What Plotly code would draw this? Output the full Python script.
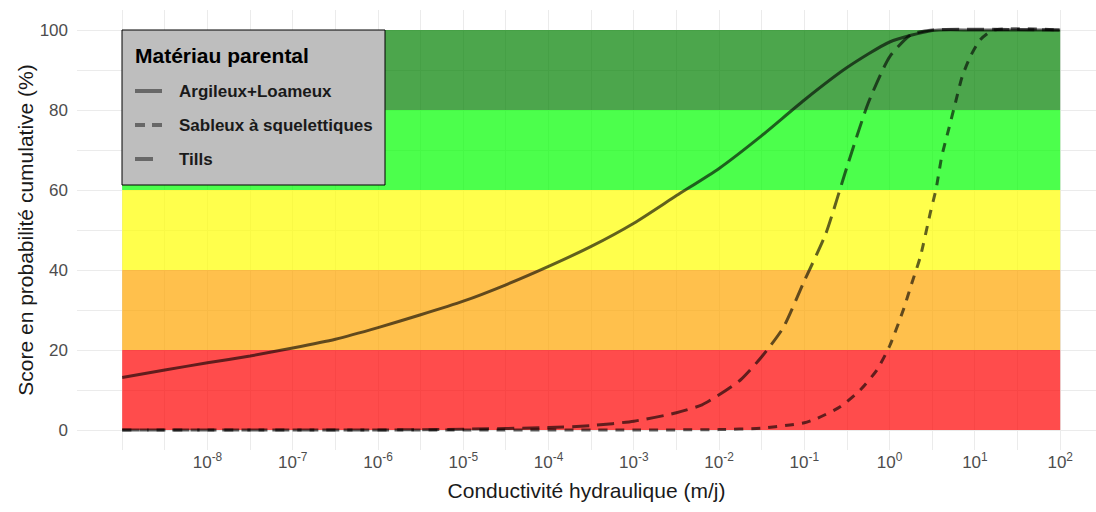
import numpy as np
import plotly.graph_objects as go

# log10 of hydraulic conductivity (m/j) and cumulative probability score (%)
log_k_argileux = [-9, -8.5, -8, -7.5, -7, -6.5, -6, -5.5, -5, -4.5, -4, -3.5,
                  -3, -2.5, -2, -1.5, -1, -0.5, 0, 0.5, 1, 2]
score_argileux = [13.1, 15.0, 16.8, 18.5, 20.5, 22.7, 25.6, 28.8, 32.2, 36.3,
                  40.9, 45.9, 51.7, 58.6, 65.4, 73.6, 82.5, 90.6, 97.0, 99.9,
                  100, 100]

log_k_sableux = [-9, -3, -2, -1.5, -1.17, -1, -0.85, -0.58, -0.345, -0.15, 0,
                 0.16, 0.26, 0.36, 0.476, 0.546, 0.61, 0.69, 0.77, 0.85, 0.945,
                 1.06, 1.22, 2]
score_sableux = [0, 0, 0.1, 0.45, 1.25, 1.8, 2.9, 5.8, 10.0, 15.0, 21.0, 30.0,
                 36.7, 43.3, 54.2, 60.4, 68.3, 75.0, 81.7, 88.3, 93.3, 97.5,
                 100, 100]

log_k_tills = [-9, -6, -5, -4, -3.5, -3, -2.5, -2.2, -2, -1.75, -1.5, -1.25,
               -1, -0.75, -0.5, -0.25, 0, 0.25, 0.5, 2]
score_tills = [0, 0, 0.2, 0.6, 1.1, 2.2, 4.3, 6.3, 8.8, 12.5, 18.3, 25.5, 37.3,
               49.0, 65.8, 81.8, 93.3, 98.8, 100, 100]

series_names = ["Argileux+Loameux", "Sableux à squelettiques", "Tills"]
series_dash = ["solid", "9px,8px", "17px,8px"]
key_dash = ["solid", "10px,7px", "18px,9px"]
legend_title = "Matériau parental"

# Score classes drawn behind the curves
band_limits = [0, 20, 40, 60, 80, 100]
band_colors = ["rgba(255,0,0,0.7)", "rgba(255,165,0,0.7)",
               "rgba(255,255,0,0.7)", "rgba(0,255,0,0.7)",
               "rgba(0,128,0,0.7)"]
band_k = [1e-9, 1e2]

decade_exponents = [-8, -7, -6, -5, -4, -3, -2, -1, 0, 1, 2]
minor_exponents = [-9, -8.5, -7.5, -6.5, -5.5, -4.5, -3.5, -2.5, -1.5, -0.5,
                   0.5, 1.5]

W, H = 1096, 512
M_L, M_R, M_T, M_B = 77, 0, 10, 62
PW, PH = W - M_L - M_R, H - M_T - M_B


def px(xp):
    """Pixel column -> paper x."""
    return (xp - M_L) / PW


def py(yp):
    """Pixel row -> paper y."""
    return (M_T + PH - yp) / PH


fig = go.Figure()

for lo, hi, col in zip(band_limits[:-1], band_limits[1:], band_colors):
    fig.add_trace(go.Scatter(
        x=[band_k[0], band_k[1], band_k[1], band_k[0], band_k[0]],
        y=[lo, lo, hi, hi, lo],
        mode="lines", fill="toself", fillcolor=col,
        line=dict(width=0), showlegend=False, hoverinfo="skip"))

curves = [(log_k_argileux, score_argileux),
          (log_k_sableux, score_sableux),
          (log_k_tills, score_tills)]
for (lk, sc), name, dash in zip(curves, series_names, series_dash):
    fig.add_trace(go.Scatter(
        x=np.power(10.0, lk), y=sc, name=name, mode="lines",
        line=dict(color="rgba(0,0,0,0.62)", width=3, dash=dash,
                  shape="spline", smoothing=0.6),
        showlegend=False))

# Legend panel: grey box with title and one key per parent material
fig.add_shape(type="rect", xref="paper", yref="paper",
              x0=px(122), x1=px(385), y0=py(185), y1=py(30),
              fillcolor="#BEBEBE", line=dict(color="black", width=1),
              layer="above")
fig.add_annotation(xref="paper", yref="paper", x=px(133), y=py(55),
                   xanchor="left", yanchor="middle", showarrow=False,
                   text=legend_title,
                   font=dict(size=21, color="black", weight="bold"))
key_rows = [91, 125, 159]
for row, name, dash in zip(key_rows, series_names, key_dash):
    fig.add_shape(type="line", xref="paper", yref="paper",
                  x0=px(135), x1=px(162), y0=py(row), y1=py(row),
                  line=dict(color="rgba(0,0,0,0.45)", width=4, dash=dash),
                  layer="above")
    fig.add_annotation(xref="paper", yref="paper", x=px(177), y=py(row),
                       xanchor="left", yanchor="middle", showarrow=False,
                       text=name,
                       font=dict(size=17, color="#1A1A1A", weight="bold"))

font_family = "Liberation Sans, Arial, sans-serif"
fig.update_layout(
    width=W, height=H,
    margin=dict(l=M_L, r=M_R, t=M_T, b=M_B),
    paper_bgcolor="white", plot_bgcolor="white",
    font=dict(family=font_family),
    showlegend=False,
    xaxis=dict(
        type="log", range=[-9.53, 2.42],
        tickmode="array", tickvals=[10.0 ** e for e in decade_exponents],
        ticktext=[f"10<sup>{e}</sup>" for e in decade_exponents],
        showgrid=True, gridcolor="#EBEBEB", gridwidth=1,
        minor=dict(tickmode="array",
                   tickvals=[10.0 ** e for e in minor_exponents],
                   showgrid=True, gridcolor="#EBEBEB", gridwidth=1),
        zeroline=False, showline=False, ticks="",
        tickfont=dict(size=17, color="#4D4D4D"),
        title=dict(text="Conductivité hydraulique (m/j)",
                   font=dict(size=21, color="#1A1A1A"), standoff=12),
    ),
    yaxis=dict(
        range=[-5, 105],
        tickmode="array", tickvals=[0, 20, 40, 60, 80, 100],
        ticktext=["0", "20", "40", "60", "80", "100"],
        showgrid=True, gridcolor="#EBEBEB", gridwidth=1,
        minor=dict(tickmode="array", tickvals=[10, 30, 50, 70, 90],
                   showgrid=True, gridcolor="#EBEBEB", gridwidth=1),
        zeroline=False, showline=False, ticks="",
        ticklabelstandoff=8,
        tickfont=dict(size=17, color="#4D4D4D"),
        title=dict(text="Score en probabilité cumulative (%)",
                   font=dict(size=21, color="#1A1A1A"), standoff=0),
    ),
)

fig.write_html("out.html")
